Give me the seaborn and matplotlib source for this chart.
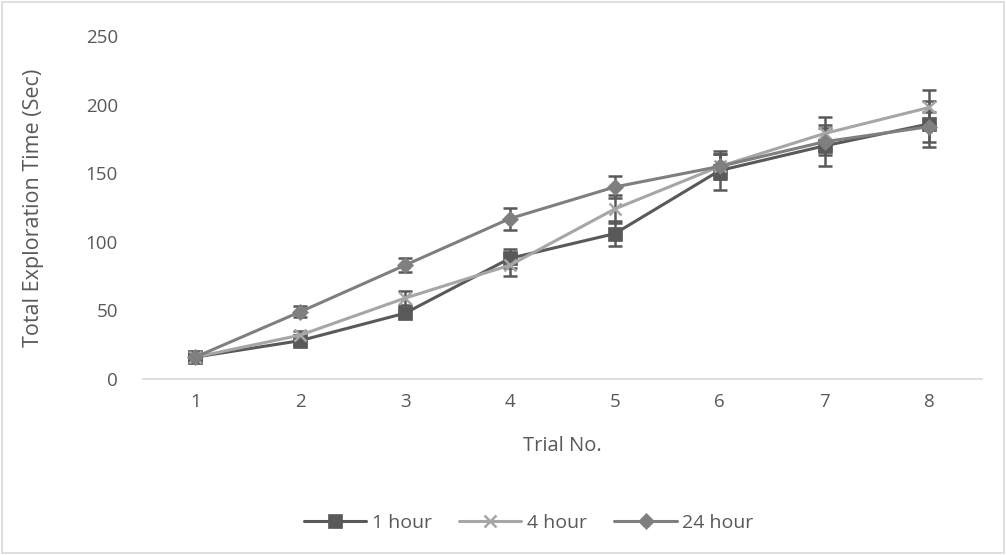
import numpy as np
import pandas as pd
import seaborn as sns
import matplotlib.pyplot as plt
from matplotlib.patches import Rectangle

# values
trials = [1, 2, 3, 4, 5, 6, 7, 8]
hour_1 = [16, 28, 48, 88, 106, 152, 170, 186]
hour_1_err = [2, 3, 3, 7, 9, 14, 15, 17]
hour_4 = [16, 32, 59, 83, 124, 155, 179, 198]
hour_4_err = [2, 3, 5, 8, 10, 9, 12, 13]
hour_24 = [16, 49, 83, 117, 140, 155, 173, 184]
hour_24_err = [2, 4, 5, 8, 8, 9, 10, 11]
series_names = ['1 hour', '4 hour', '24 hour']

colors = {'1 hour': '#595959', '4 hour': '#A6A6A6', '24 hour': '#7F7F7F'}
markers = {'1 hour': 's', '4 hour': 'x', '24 hour': 'D'}
msizes = {'1 hour': 10, '4 hour': 9, '24 hour': 8}

df = pd.DataFrame({
    'trial': trials * 3,
    'time': hour_1 + hour_4 + hour_24,
    'err': hour_1_err + hour_4_err + hour_24_err,
    'group': [s for s in series_names for _ in trials],
})

sns.set_theme(style='white')
plt.rcParams['font.family'] = ['Open Sans', 'DejaVu Sans']

fig = plt.figure(figsize=(10.06, 5.55), dpi=100)
ax = fig.add_axes([0.142, 0.317, 0.834, 0.618])

# error bars first so lines sit on top
for name in series_names:
    d = df[df['group'] == name]
    ax.errorbar(d['trial'], d['time'], yerr=d['err'], fmt='none',
                ecolor='#595959', elinewidth=1.8, capsize=5, capthick=1.8, zorder=2)

for name in series_names:
    d = df[df['group'] == name]
    sns.lineplot(x='trial', y='time', data=d, ax=ax, color=colors[name],
                 marker=markers[name], markersize=msizes[name], linewidth=2.2,
                 markeredgecolor=colors[name], markeredgewidth=1.8 if name == '4 hour' else 0.5,
                 label=name, zorder=3)

ax.set_xlim(0.5, 8.5)
ax.set_ylim(0, 250)
ax.set_xticks(trials)
ax.set_yticks([0, 50, 100, 150, 200, 250])
ax.tick_params(axis='both', labelsize=13.5, colors='#595959', length=0)
ax.tick_params(axis='y', pad=18)
ax.tick_params(axis='x', pad=10)
for side in ['left', 'right', 'top']:
    ax.spines[side].set_visible(False)
ax.spines['bottom'].set_color('#D9D9D9')
ax.spines['bottom'].set_linewidth(1.2)
ax.set_xlabel('Trial No.', fontsize=14.5, color='#595959', labelpad=18)
ax.set_ylabel('Total Exploration Time (Sec)', fontsize=15.5, color='#595959', labelpad=30)

leg = ax.legend(loc='center', bbox_to_anchor=(0.46, -0.42), ncol=3, frameon=False,
                fontsize=14, handlelength=3.2, columnspacing=1.4, handletextpad=0.3)
for t in leg.get_texts():
    t.set_color('#595959')

# outer chart border
fig.patches.append(Rectangle((0.002, 0.003), 0.996, 0.994, transform=fig.transFigure,
                             fill=False, edgecolor='#D9D9D9', linewidth=1.2))

fig.savefig('out.png', dpi=100)
